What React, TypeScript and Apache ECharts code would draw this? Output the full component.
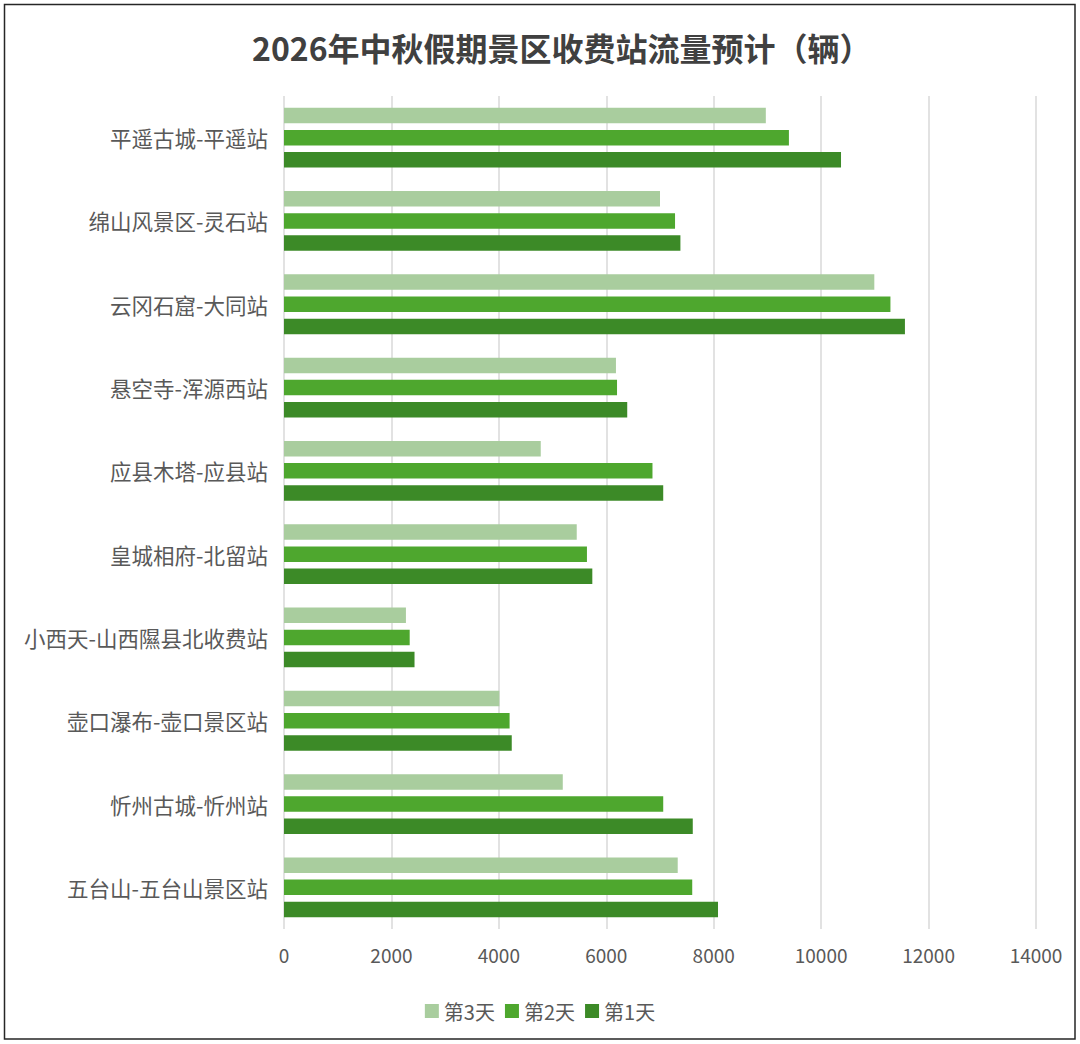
import { useEffect, useRef } from "react";
import * as echarts from "echarts";

// bottom to top, as the category axis draws them
const stations = [
  "五台山-五台山景区站",
  "忻州古城-忻州站",
  "壶口瀑布-壶口景区站",
  "小西天-山西隰县北收费站",
  "皇城相府-北留站",
  "应县木塔-应县站",
  "悬空寺-浑源西站",
  "云冈石窟-大同站",
  "绵山风景区-灵石站",
  "平遥古城-平遥站",
];

const day3 = [7330, 5190, 4010, 2270, 5450, 4780, 6180, 10990, 7000, 8970];
const day2 = [7600, 7060, 4200, 2340, 5640, 6860, 6200, 11290, 7280, 9400];
const day1 = [8080, 7610, 4240, 2430, 5740, 7060, 6390, 11560, 7380, 10370];

const seriesNames = ["第3天", "第2天", "第1天"];
const colors = ["#A9CD9E", "#4EA72E", "#3C8A27"];

const FONT = "'Noto Sans CJK SC', 'Noto Sans', sans-serif";

export default function App() {
  const chartRef = useRef(null);

  useEffect(() => {
    document.body.style.margin = "0";
    const chart = echarts.init(chartRef.current, null, { renderer: "svg" });

    const values = [day3, day2, day1];

    const options = {
      animation: false,
      backgroundColor: "#ffffff",
      textStyle: { fontFamily: FONT },
      title: {
        text: "2026年中秋假期景区收费站流量预计（辆）",
        left: 247,
        top: 26,
        textStyle: {
          fontSize: 32,
          fontWeight: "bold",
          color: "#404040",
          fontFamily: FONT,
        },
      },
      legend: {
        data: seriesNames,
        left: "center",
        top: 996,
        itemWidth: 14,
        itemHeight: 14,
        itemGap: 10,
        icon: "rect",
        textStyle: { fontSize: 20, color: "#595959", fontFamily: FONT },
      },
      grid: {
        left: 284,
        right: 44,
        top: 96,
        bottom: 115,
        containLabel: false,
      },
      xAxis: {
        type: "value",
        min: 0,
        max: 14000,
        interval: 2000,
        axisLine: { show: false },
        axisTick: { show: false },
        axisLabel: {
          fontSize: 19,
          color: "#595959",
          margin: 16,
          fontFamily: FONT,
          formatter: (v: number) => String(v),
        },
        splitLine: { lineStyle: { color: "#D9D9D9", width: 1.5 } },
      },
      yAxis: {
        type: "category",
        data: stations,
        axisLine: { show: false },
        axisTick: { show: false },
        axisLabel: {
          fontSize: 21.5,
          color: "#595959",
          margin: 16,
          fontFamily: FONT,
        },
      },
      series: seriesNames.map((name, i) => ({
        name,
        type: "bar",
        data: values[i],
        barWidth: 15.5,
        barGap: "43%",
        itemStyle: { color: colors[i] },
      })),
      graphic: [
        {
          type: "rect",
          shape: { x: 4.5, y: 4.5, width: 1070.5, height: 1034.5 },
          style: { fill: "none", stroke: "#262626", lineWidth: 1.5 },
          silent: true,
        },
      ],
    };

    chart.setOption(options);

    return () => {
      chart.dispose();
    };
  }, []);

  return <div ref={chartRef} style={{ width: "1080px", height: "1044px" }} />;
}
